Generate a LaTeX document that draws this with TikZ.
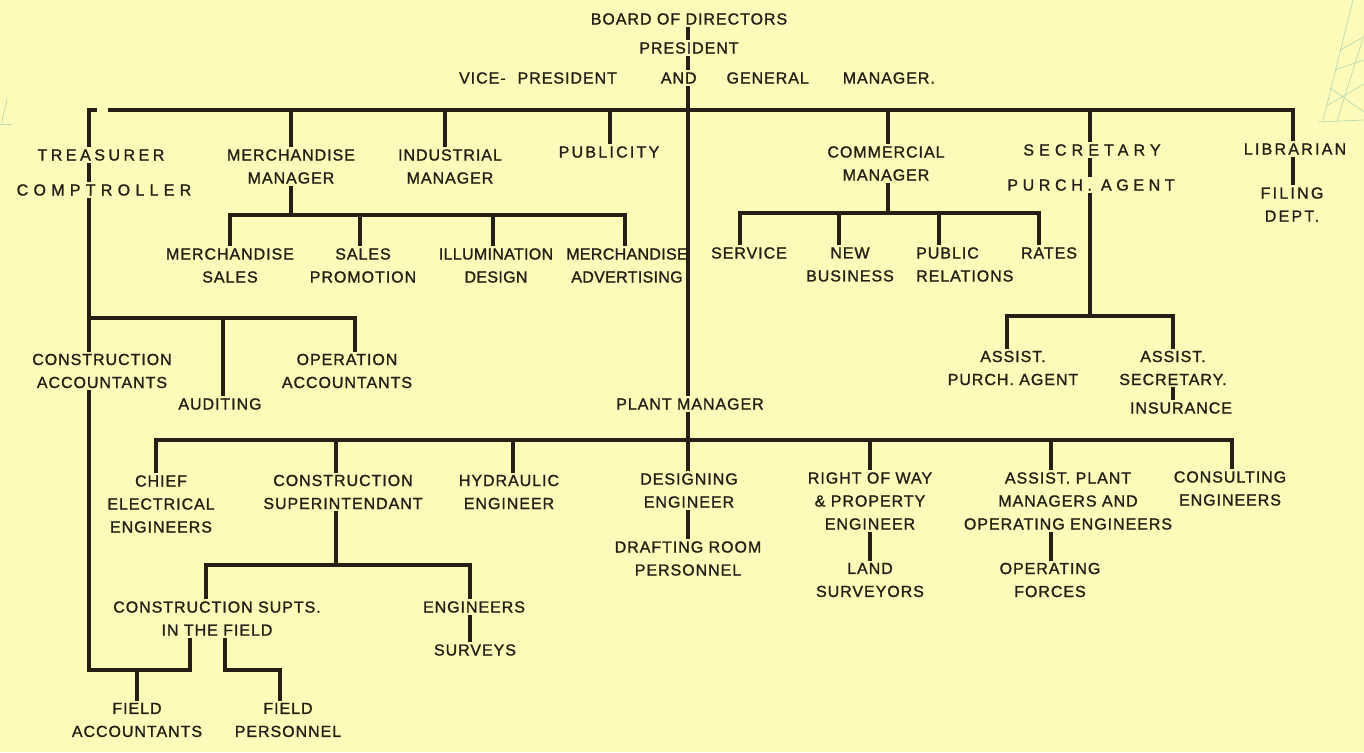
\documentclass[tikz,border=0pt]{standalone}
\usepackage{fontspec}
\setmainfont{Liberation Sans}
\definecolor{paper}{RGB}{252,251,186}
\definecolor{ink}{RGB}{38,32,20}
\definecolor{faint}{RGB}{160,205,170}
\begin{document}
\begin{tikzpicture}[x=1pt,y=-1pt,
  lbl/.style={font=\fontsize{16}{23}\selectfont\addfontfeatures{LetterSpace=6,FakeBold=1.3}, text=ink, align=center, inner sep=2pt},
  ls/.style={font=\fontsize{16}{23}\selectfont\addfontfeatures{LetterSpace=#1,FakeBold=1.3}},
  conn/.style={draw=ink, line width=3.1pt, line join=miter},
  deco/.style={draw=faint, line width=0.7pt, opacity=0.7}]
\useasboundingbox (0,0) rectangle (1364,752);
\fill[paper] (0,0) rectangle (1364,752);

% faint background sketch
\draw[deco] (1318,122) -- (1364,120);
\draw[deco] (1323,121) -- (1353,0);
\draw[deco] (1337,121) -- (1364,35);
\draw[deco] (1326,106) -- (1364,84);
\draw[deco] (1330,88) -- (1364,112);
\draw[deco] (1335,70) -- (1364,60);
\draw[deco] (1340,50) -- (1362,38);
\draw[deco] (0,124) -- (12,124);
\draw[deco] (2,123) .. controls (3,110) and (7,106) .. (7,98);

% ---------- nodes ----------
\node[lbl] (board) at (689,19) {BOARD OF DIRECTORS};
\node[lbl] (pres) at (689,48) {PRESIDENT};
\node[lbl] (vp) at (697,78) {VICE-\hspace{12pt}PRESIDENT\hspace{44pt}AND\hspace{30pt}GENERAL\hspace{34pt}MANAGER.};

\node[lbl, ls=22] (treas) at (101,155) {TREASURER};
\node[lbl, ls=33] (compt) at (104,190) {COMPTROLLER};
\node[lbl] (merch) at (291,166.5) {MERCHANDISE\\MANAGER};
\node[lbl] (indus) at (450,166.5) {INDUSTRIAL\\MANAGER};
\node[lbl, ls=14] (publ) at (609,152) {PUBLICITY};
\node[lbl] (comm) at (886,163.5) {COMMERCIAL\\MANAGER};
\node[lbl, ls=32] (secr) at (1092,150) {SECRETARY};
\node[lbl, ls=29] (purch) at (1091,185) {PURCH. AGENT};
\node[lbl, ls=14] (libr) at (1295,149) {LIBRARIAN};
\node[lbl, ls=14] (filing) at (1292,204.5) {FILING\\DEPT.};

\node[lbl] (msales) at (230,265.5) {MERCHANDISE\\SALES};
\node[lbl] (spromo) at (363,265.5) {SALES\\PROMOTION};
\node[lbl, ls=2] (illum) at (496,265.5) {ILLUMINATION\\DESIGN};
\node[lbl, ls=2] (madv) at (627,265.5) {MERCHANDISE\\ADVERTISING};

\node[lbl] (service) at (749,253) {SERVICE};
\node[lbl] (newbus) at (850,264.5) {NEW\\BUSINESS};
\node[lbl, align=left, anchor=west] (pubrel) at (914,264.5) {PUBLIC\\RELATIONS};
\node[lbl] (rates) at (1049,253) {RATES};

\node[lbl] (constacc) at (102,371) {CONSTRUCTION\\ACCOUNTANTS};
\node[lbl] (auditing) at (220,404) {AUDITING};
\node[lbl] (opacc) at (347,371) {OPERATION\\ACCOUNTANTS};

\node[lbl] (asspurch) at (1013,368) {ASSIST.\\PURCH. AGENT};
\node[lbl] (asssec) at (1173,368) {ASSIST.\\SECRETARY.};
\node[lbl] (insur) at (1181,408) {INSURANCE};

\node[lbl] (plant) at (690,404) {PLANT MANAGER};

\node[lbl] (chief) at (161,504) {CHIEF\\ELECTRICAL\\ENGINEERS};
\node[lbl] (constsup) at (343,492) {CONSTRUCTION\\SUPERINTENDANT};
\node[lbl] (hydr) at (509,492) {HYDRAULIC\\ENGINEER};
\node[lbl] (design) at (689,490.5) {DESIGNING\\ENGINEER};
\node[lbl] (drafting) at (688,558.5) {DRAFTING ROOM\\PERSONNEL};
\node[lbl] (row) at (870,501) {RIGHT OF WAY\\\& PROPERTY\\ENGINEER};
\node[lbl] (assplant) at (1068,501) {ASSIST. PLANT\\MANAGERS AND\\OPERATING ENGINEERS};
\node[lbl] (consult) at (1230,488.5) {CONSULTING\\ENGINEERS};
\node[lbl] (land) at (870,580) {LAND\\SURVEYORS};
\node[lbl] (opforces) at (1050,580) {OPERATING\\FORCES};

\node[lbl] (cfield) at (217,618.5) {CONSTRUCTION SUPTS.\\IN THE FIELD};
\node[lbl] (engs) at (474,607) {ENGINEERS};
\node[lbl] (surveys) at (475,650) {SURVEYS};
\node[lbl] (faccts) at (137,720) {FIELD\\ACCOUNTANTS};
\node[lbl] (fpers) at (288,720) {FIELD\\PERSONNEL};

% ---------- coordinates ----------
\coordinate (T) at (688,0);
\coordinate (ta) at (89,110);
\coordinate (tr) at (1293,110);
\coordinate (dMM) at (291,110);
\coordinate (dIM) at (445,110);
\coordinate (dPU) at (610,110);
\coordinate (dCM) at (888,110);
\coordinate (dSE) at (1090,110);

\coordinate (mb) at (291,215);
\coordinate (mb1) at (230,215);
\coordinate (mb2) at (360,215);
\coordinate (mb3) at (493,215);
\coordinate (mb4) at (625,215);

\coordinate (cb) at (888,213);
\coordinate (cb1) at (740,213);
\coordinate (cb2) at (839,213);
\coordinate (cb3) at (939,213);
\coordinate (cb4) at (1039,213);

\coordinate (ab) at (89,318);
\coordinate (ab2) at (223,318);
\coordinate (ab3) at (355,318);

\coordinate (sb) at (1090,316);
\coordinate (sb1) at (1007,316);
\coordinate (sb2) at (1173,316);

\coordinate (pb1) at (156,440);
\coordinate (pb2) at (336,440);
\coordinate (pb3) at (513,440);
\coordinate (pb5) at (870,440);
\coordinate (pb6) at (1051,440);
\coordinate (pb7) at (1232,440);

\coordinate (csb) at (336,565);
\coordinate (csb1) at (206,565);
\coordinate (csb2) at (470,565);

\coordinate (fb) at (89,670);
\coordinate (fb1) at (137,670);
\coordinate (fb2) at (190,670);
\coordinate (pf1) at (225,670);
\coordinate (pf2) at (280,670);

% ---------- connectors ----------
\draw[conn] (T |- board.south) -- (T |- pres.north);
\draw[conn] (T |- pres.south) -- (T |- vp.north);
\draw[conn] (T |- vp.south) -- (T |- plant.north);

\draw[conn] (ta |- treas.north) -- (ta) -- ([xshift=8pt]ta);
\draw[conn] ([xshift=19pt]ta) -- (tr) -- (tr |- libr.north);
\draw[conn] (dMM) -- (dMM |- merch.north);
\draw[conn] (dIM) -- (dIM |- indus.north);
\draw[conn] (dPU) -- (dPU |- publ.north);
\draw[conn] (dCM) -- (dCM |- comm.north);
\draw[conn] (dSE) -- (dSE |- secr.north);

% treasurer branch
\draw[conn] (ta |- treas.south) -- (ta |- compt.north);
\draw[conn] (ta |- compt.south) -- (ta |- constacc.north);
\draw[conn] (ab) -- (ab3) -- (ab3 |- opacc.north);
\draw[conn] (ab2) -- (ab2 |- auditing.north);
\draw[conn] (ta |- constacc.south) -- (fb) -- (fb2) -- (fb2 |- cfield.south);
\draw[conn] (fb1) -- (fb1 |- faccts.north);
\draw[conn] (pf1 |- cfield.south) -- (pf1) -- (pf2) -- (pf2 |- fpers.north);

% merchandise branch
\draw[conn] (mb |- merch.south) -- (mb);
\draw[conn] (mb1 |- msales.north) -- (mb1) -- (mb4) -- (mb4 |- madv.north);
\draw[conn] (mb2) -- (mb2 |- spromo.north);
\draw[conn] (mb3) -- (mb3 |- illum.north);

% commercial branch
\draw[conn] (cb |- comm.south) -- (cb);
\draw[conn] (cb1 |- service.north) -- (cb1) -- (cb4) -- (cb4 |- rates.north);
\draw[conn] (cb2) -- (cb2 |- newbus.north);
\draw[conn] (cb3) -- (cb3 |- pubrel.north);

% secretary branch
\draw[conn] (dSE |- secr.south) -- (dSE |- purch.north);
\draw[conn] (sb |- purch.south) -- (sb);
\draw[conn] (sb1 |- asspurch.north) -- (sb1) -- (sb2) -- (sb2 |- asssec.north);
\draw[conn] (sb2 |- asssec.south) -- (sb2 |- insur.north);

% librarian
\draw[conn] (tr |- libr.south) -- (tr |- filing.north);

% plant branch
\draw[conn] (T |- plant.south) -- (T |- design.north);
\draw[conn] (pb1 |- chief.north) -- (pb1) -- (pb7) -- (pb7 |- consult.north);
\draw[conn] (pb2) -- (pb2 |- constsup.north);
\draw[conn] (pb3) -- (pb3 |- hydr.north);
\draw[conn] (pb5) -- (pb5 |- row.north);
\draw[conn] (pb6) -- (pb6 |- assplant.north);
\draw[conn] (T |- design.south) -- (T |- drafting.north);
\draw[conn] (pb5 |- row.south) -- (pb5 |- land.north);
\draw[conn] (pb6 |- assplant.south) -- (pb6 |- opforces.north);

% construction superintendant branch
\draw[conn] (csb |- constsup.south) -- (csb);
\draw[conn] (csb1 |- cfield.north) -- (csb1) -- (csb2) -- (csb2 |- engs.north);
\draw[conn] (csb2 |- engs.south) -- (csb2 |- surveys.north);
\end{tikzpicture}
\end{document}
